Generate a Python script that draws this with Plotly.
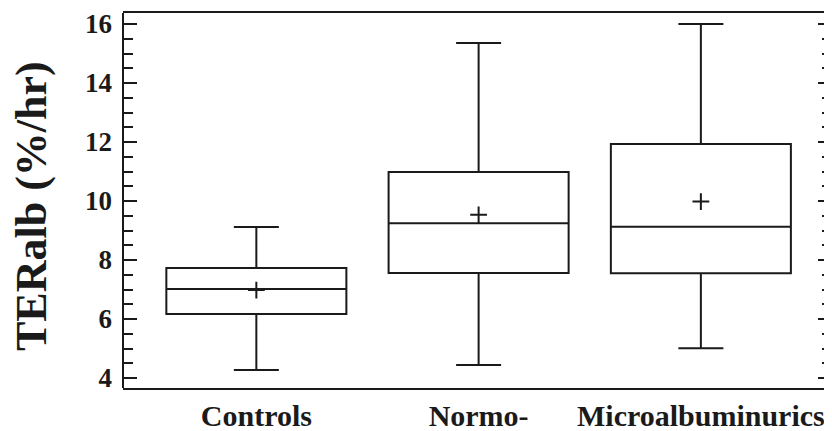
import plotly.graph_objects as go

categories = ["Controls", "Normo-", "Microalbuminurics"]
lower_whisker = [4.27, 4.44, 5.01]
q1_values = [6.17, 7.56, 7.55]
median_values = [7.02, 9.25, 9.13]
q3_values = [7.73, 10.98, 11.93]
upper_whisker = [9.12, 15.36, 16.0]
mean_values = [6.98, 9.53, 9.98]
y_tick_values = [4, 6, 8, 10, 12, 14, 16]

LINE = "#1a1a1a"
FONT = "Liberation Serif, Times New Roman, serif"

fig = go.Figure()
fig.add_trace(go.Box(
    x=categories,
    q1=q1_values, median=median_values, q3=q3_values,
    lowerfence=lower_whisker, upperfence=upper_whisker,
    width=0.81, whiskerwidth=0.25,
    fillcolor="rgba(0,0,0,0)",
    line=dict(color=LINE, width=2),
    boxpoints=False, hoverinfo="skip", showlegend=False,
))
fig.add_trace(go.Scatter(
    x=categories, y=mean_values, mode="markers",
    marker=dict(symbol="cross-thin", size=12, line=dict(color=LINE, width=2)),
    hoverinfo="skip", showlegend=False,
))

# page body has an 8px default margin; figure sized to end at the window edge
fig.update_layout(
    width=824, height=423,
    margin=dict(l=115, r=0, t=5, b=43, autoexpand=False),
    paper_bgcolor="white", plot_bgcolor="white",
    font=dict(family=FONT, color=LINE),
    xaxis=dict(
        type="category", range=[-0.6, 2.59], automargin=False,
        showline=True, linecolor=LINE, linewidth=2, mirror=True,
        ticks="", showgrid=False, zeroline=False,
        tickfont=dict(size=30, family=FONT, weight="bold"),
        ticklabelstandoff=0,
    ),
    yaxis=dict(
        range=[3.661, 16.373], automargin=False,
        tickvals=y_tick_values,
        showline=False, mirror="ticks",
        ticks="inside", ticklen=14, tickwidth=2, tickcolor=LINE,
        minor=dict(dtick=0.5, ticks="inside", ticklen=10, tickwidth=2, tickcolor=LINE, showgrid=False),
        showgrid=False, zeroline=False,
        tickfont=dict(size=27, family=FONT, weight="bold"),
        ticklabelstandoff=10,
    ),
    shapes=[dict(type="line", xref="paper", yref="paper", x0=0, x1=0, y0=0, y1=1,
                 line=dict(color=LINE, width=2))],
    annotations=[dict(
        text="TERalb (%/hr)", textangle=-90,
        xref="paper", yref="paper", x=(32 - 123) / 709, y=(388 - 206) / 375,
        xanchor="center", yanchor="middle", showarrow=False,
        font=dict(size=44, family=FONT, weight="bold", color=LINE),
    )],
)

fig.write_html("out.html")
